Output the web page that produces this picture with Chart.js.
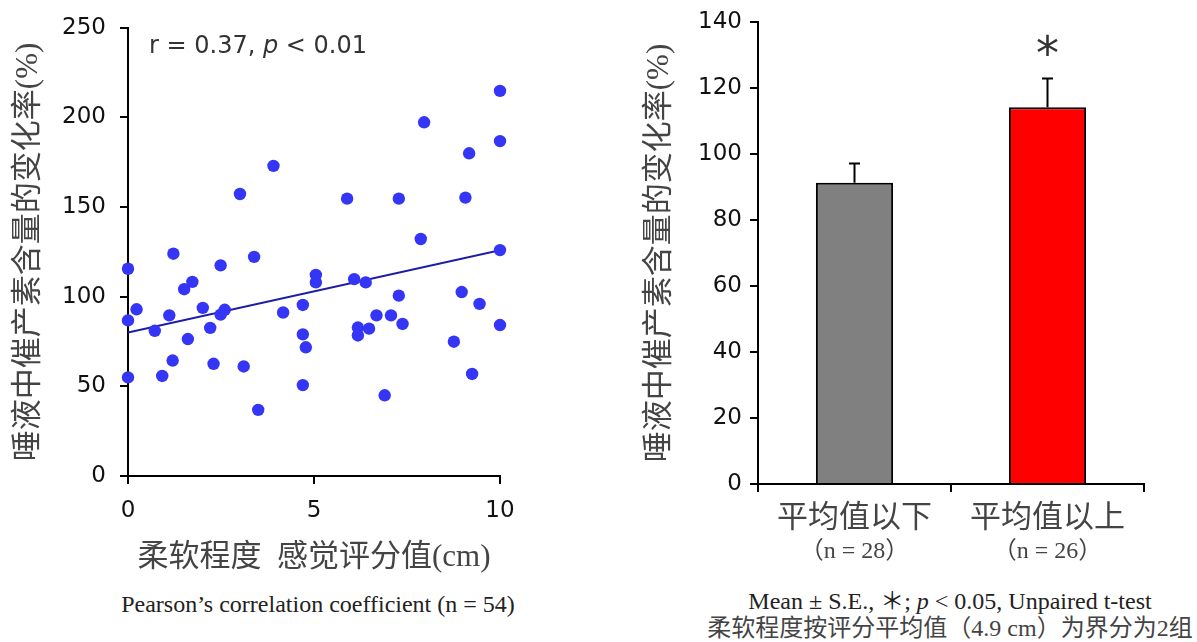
<!DOCTYPE html>
<html>
<head>
<meta charset="utf-8">
<script src="https://cdn.jsdelivr.net/npm/chart.js@4"></script>
<style>
  html, body { margin: 0; padding: 0; background: #fff; }
  body { width: 1197px; height: 642px; position: relative; overflow: hidden; }
  #left { position: absolute; left: 0; top: 0; }
  #right { position: absolute; left: 600px; top: 0; }
  .cap { position: absolute; text-align: center; font-family: 'Liberation Serif', 'Noto Sans CJK SC', serif; font-size: 24px; color: #222; white-space: nowrap; }
</style>
</head>
<body>
<canvas id="left" width="560" height="580"></canvas>
<canvas id="right" width="597" height="580"></canvas>
<div class="cap" style="left:0; width:636px; top:591px; line-height:26px;">Pearson’s correlation coefficient (n = 54)</div>
<div class="cap" style="left:700px; width:500px; top:588px; line-height:27px;">Mean ± S.E., ＊; <i>p</i> &lt; 0.05, Unpaired t-test<br><span style="color:#444">柔软程度按评分平均值（4.9 cm）为界分为2组</span></div>
<script>
// ---------- Left: scatter data ----------
const softness = [0, 1.22, 2.49, 3.39, 5.05, 5.05, 1.51, 1.73, 0.23, 0, 1.11, 2.01, 2.49, 2.6, 0.72, 1.61, 2.21, 4.17, 4.7, 4.7, 4.78, 1.2, 2.3, 3.11, 0, 0.92, 4.7, 3.5, 7.87, 10, 6.08, 6.39, 7.28, 8.97, 9.45, 6.68, 7.07, 6.18, 6.18, 6.48, 7.38, 10, 8.76, 9.25, 6.9, 10, 7.96, 10, 9.17, 5.89, 7.28, 9.07, 3.91, 3.01];
const oxytocinChange = [115.6, 124, 117.5, 122.2, 112.2, 108, 104.2, 108.3, 93, 86.8, 89.6, 93.8, 90, 92.7, 81, 76.4, 82.6, 91.2, 95.4, 79, 71.8, 64.4, 62.6, 61.1, 55, 55.8, 50.7, 36.9, 132.2, 126, 109.8, 108, 100.6, 102.6, 96, 89.6, 89.6, 82.8, 78.4, 82.2, 84.8, 84.2, 74.9, 56.9, 45, 214.8, 197.3, 186.8, 180, 154.7, 154.7, 155.3, 173, 157.3];
const fitX = [0, 10];
const fitY = [80, 126];
const scatterXTicks = { min: 0, max: 10, step: 5 };
const scatterYTicks = { min: 0, max: 250, step: 50 };

// ---------- Right: bar data ----------
const groups = ['平均值以下', '平均值以上'];
const groupN = ['（n = 28）', '（n = 26）'];
const means = [91.3, 114.2];
const stdErr = [5.8, 8.7];
const sigMarks = ['', '*'];
const barYTicks = { min: 0, max: 140, step: 20 };

const TICK_FONT = "'DejaVu Sans', Verdana, sans-serif";
const TITLE_FONT = "'Liberation Serif', 'Noto Sans CJK SC', serif";

function axisCommon() {
  return {
    border: { display: true, color: '#000', width: 2 },
    grid: { display: true, drawOnChartArea: false, drawTicks: true, tickLength: 8, color: '#000', lineWidth: 2 },
  };
}

const corrLabel = {
  id: 'corrLabel',
  afterDraw(chart) {
    const ctx = chart.ctx;
    ctx.save();
    ctx.fillStyle = '#333';
    ctx.textBaseline = 'alphabetic';
    let x = chart.chartArea.left + 21;
    const y = chart.chartArea.top + 25;
    const parts = [['r = 0.37, ', ''], ['p', 'italic '], [' < 0.01', '']];
    for (const [t, st] of parts) {
      ctx.font = st + '24px ' + TICK_FONT;
      ctx.fillText(t, x, y);
      x += ctx.measureText(t).width;
    }
    ctx.restore();
  }
};

new Chart(document.getElementById('left'), {
  type: 'scatter',
  data: {
    datasets: [
      {
        type: 'scatter',
        data: softness.map((x, i) => ({ x, y: oxytocinChange[i] })),
        backgroundColor: '#3535f5',
        borderWidth: 0,
        pointRadius: 6.2,
        pointHoverRadius: 6.2,
        clip: false,
        order: 1
      },
      {
        type: 'line',
        data: fitX.map((x, i) => ({ x, y: fitY[i] })),
        borderColor: '#1c1ca6',
        borderWidth: 2,
        pointRadius: 0,
        fill: false,
        order: 2
      }
    ]
  },
  options: {
    responsive: false,
    animation: false,
    events: [],
    layout: { padding: { left: 0, top: 22, right: 60, bottom: 0 } },
    plugins: { legend: { display: false }, tooltip: { enabled: false } },
    scales: {
      x: Object.assign(axisCommon(), {
        type: 'linear', min: scatterXTicks.min, max: scatterXTicks.max,
        ticks: { stepSize: scatterXTicks.step, font: { family: TICK_FONT, size: 23 }, color: '#111', padding: 13, maxRotation: 0 },
        title: { display: true, text: '柔软程度  感觉评分值(cm)', font: { family: TITLE_FONT, size: 31 }, color: '#444', padding: { top: 0, bottom: 4 } },
        afterFit(s) { s.height = 104; }
      }),
      y: Object.assign(axisCommon(), {
        type: 'linear', min: scatterYTicks.min, max: scatterYTicks.max,
        ticks: { stepSize: scatterYTicks.step, font: { family: TICK_FONT, size: 23 }, color: '#111', padding: 14 },
        title: { display: true, text: '唾液中催产素含量的变化率(%)', font: { family: TITLE_FONT, size: 31 }, color: '#444', padding: { top: 10, bottom: 0 } },
        afterFit(s) { s.width = 128; }
      })
    }
  },
  plugins: [corrLabel]
});

const barExtras = {
  id: 'barExtras',
  afterDatasetsDraw(chart) {
    const ctx = chart.ctx;
    const meta = chart.getDatasetMeta(0);
    const ys = chart.scales.y;
    ctx.save();
    ctx.strokeStyle = '#000';
    ctx.lineWidth = 2;
    meta.data.forEach((el, i) => {
      const top = ys.getPixelForValue(means[i] + stdErr[i]);
      ctx.beginPath();
      ctx.moveTo(el.x, el.y);
      ctx.lineTo(el.x, top);
      ctx.moveTo(el.x - 5.5, top);
      ctx.lineTo(el.x + 5.5, top);
      ctx.stroke();
      if (sigMarks[i]) {
        ctx.fillStyle = '#333';
        ctx.font = '46px ' + TICK_FONT;
        ctx.textAlign = 'center';
        ctx.textBaseline = 'middle';
        ctx.fillText(sigMarks[i], el.x, top - 21);
      }
    });
    ctx.restore();
  },
  afterDraw(chart) {
    const ctx = chart.ctx;
    const xs = chart.scales.x;
    ctx.save();
    ctx.fillStyle = '#444';
    ctx.font = '24px ' + TITLE_FONT;
    ctx.textAlign = 'center';
    ctx.textBaseline = 'middle';
    groupN.forEach((t, i) => {
      ctx.fillText(t, xs.getPixelForValue(i), chart.chartArea.bottom + 68);
    });
    ctx.restore();
  }
};

new Chart(document.getElementById('right'), {
  type: 'bar',
  data: {
    labels: groups,
    datasets: [{
      data: means,
      backgroundColor: ['#808080', '#ff0000'],
      borderColor: '#000',
      borderWidth: 2,
      borderSkipped: 'start',
      barPercentage: 0.4,
      categoryPercentage: 1.0
    }]
  },
  options: {
    responsive: false,
    animation: false,
    events: [],
    layout: { padding: { left: 0, top: 22, right: 53, bottom: 0 } },
    plugins: { legend: { display: false }, tooltip: { enabled: false } },
    scales: {
      x: Object.assign(axisCommon(), {
        type: 'category', offset: true,
        grid: { display: true, offset: true, drawOnChartArea: false, drawTicks: true, tickLength: 8, color: '#000', lineWidth: 2 },
        ticks: { font: { family: TITLE_FONT, size: 31 }, color: '#444', padding: 8, maxRotation: 0 },
        afterFit(s) { s.height = 96; }
      }),
      y: Object.assign(axisCommon(), {
        type: 'linear', min: barYTicks.min, max: barYTicks.max,
        ticks: { stepSize: barYTicks.step, font: { family: TICK_FONT, size: 23 }, color: '#111', padding: 8 },
        title: { display: true, text: '唾液中催产素含量的变化率(%)', font: { family: TITLE_FONT, size: 31 }, color: '#444', padding: { top: 41, bottom: 0 } },
        afterFit(s) { s.width = 158; }
      })
    }
  },
  plugins: [barExtras]
});
</script>
</body>
</html>
